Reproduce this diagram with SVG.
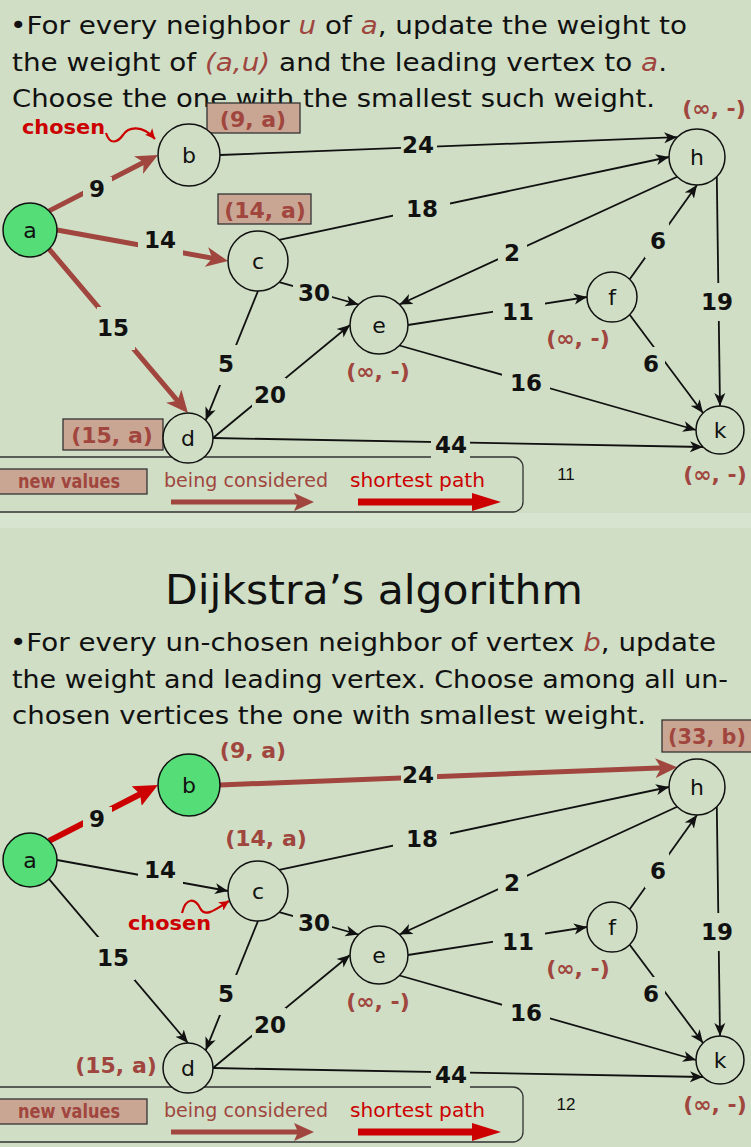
<svg xmlns="http://www.w3.org/2000/svg" width="751" height="1147" viewBox="0 0 751 1147">
<style>
.t{font-family:"DejaVu Sans","Liberation Sans",sans-serif;font-size:25px;fill:#111}
.hl{fill:#a0463e;font-style:italic}
.n circle{fill:#cfdec5;stroke:#111;stroke-width:1.5}
.n.g circle{fill:#55dd77}
.n text{font-family:"DejaVu Sans",sans-serif;font-size:22px;fill:#111;text-anchor:middle;dominant-baseline:central}
.e{stroke:#111;stroke-width:1.8;fill:none;marker-end:url(#ab)}
.eb{stroke:#a0463e;stroke-width:5;fill:none;marker-end:url(#abr)}
.er{stroke:#cc0000;stroke-width:6;fill:none;marker-end:url(#ar)}
.lr{fill:#cfdec5}
.w{font-family:"DejaVu Sans",sans-serif;font-weight:bold;font-size:23px;fill:#111;text-anchor:middle;dominant-baseline:central}
.v{font-family:"DejaVu Sans",sans-serif;font-weight:bold;font-size:22px;fill:#a0463e;text-anchor:middle;dominant-baseline:central}
.vb{fill:#c9a593;stroke:#333;stroke-width:1.3}
.lg{font-family:"DejaVu Sans",sans-serif;font-size:19px}
.pn{font-family:"Liberation Sans",sans-serif;font-size:17px;fill:#111;text-anchor:middle}
.ch{font-family:"DejaVu Sans",sans-serif;font-weight:bold;font-size:20px;fill:#cc0000}
</style>
<defs>
<marker id="ab" markerUnits="userSpaceOnUse" markerWidth="14" markerHeight="12" refX="13" refY="6" orient="auto"><path d="M0,0.5 L13,6 L0,11.5 L3.5,6 z" fill="#111"/></marker>
<marker id="abr" markerUnits="userSpaceOnUse" markerWidth="22" markerHeight="20" refX="10" refY="10" orient="auto"><path d="M0,0 L22,10 L0,20 L6,10 z" fill="#a0463e"/></marker>
<marker id="ar" markerUnits="userSpaceOnUse" markerWidth="24" markerHeight="22" refX="12" refY="11" orient="auto"><path d="M0,0 L24,11 L0,22 L4,11 z" fill="#cc0000"/></marker>
<marker id="ars" markerUnits="userSpaceOnUse" markerWidth="11" markerHeight="10" refX="10" refY="5" orient="auto"><path d="M0,0 L10,5 L0,10 L2.5,5 z" fill="#cc0000"/></marker>
</defs>
<rect width="751" height="1147" fill="#cfdec5"/>
<rect y="513" width="751" height="15" fill="#d7e4cf"/>

<!-- TOP SLIDE -->
<g id="top-text">
<text class="t" x="10" y="34" textLength="677" lengthAdjust="spacingAndGlyphs">•For every neighbor <tspan class="hl">u</tspan> of <tspan class="hl">a</tspan>, update the weight to</text>
<text class="t" x="12" y="71" textLength="655" lengthAdjust="spacingAndGlyphs">the weight of <tspan class="hl">(a,u)</tspan> and the leading vertex to <tspan class="hl">a</tspan>.</text>
<text class="t" x="12" y="107" textLength="643" lengthAdjust="spacingAndGlyphs">Choose the one with the smallest such weight.</text>
</g>

<g id="top-legend">
<rect x="-20" y="457" width="543" height="55" rx="10" fill="none" stroke="#333" stroke-width="1.3"/>
<rect class="vb" x="-2" y="469" width="149" height="25"/>
<text x="69" y="488" text-anchor="middle" class="lg" font-weight="bold" font-size="18" fill="#a0463e" textLength="102" lengthAdjust="spacingAndGlyphs">new values</text>
<text x="164" y="487" class="lg" fill="#a0463e" textLength="164" lengthAdjust="spacingAndGlyphs">being considered</text>
<line x1="171" y1="502" x2="298" y2="502" stroke="#a0463e" stroke-width="5"/>
<polygon points="294,493 314,502 294,511 298,502" fill="#a0463e"/>
<text x="350" y="487" class="lg" fill="#cc0000" textLength="135" lengthAdjust="spacingAndGlyphs">shortest path</text>
<line x1="358" y1="502" x2="476" y2="502" stroke="#cc0000" stroke-width="7"/>
<polygon points="472,493 501,502 472,511" fill="#cc0000"/>
<text class="pn" x="566" y="480">11</text>
</g>

<g id="top-edges">
<path class="eb" d="M49.1,210.9 L147.3,160.5"/>
<path class="eb" d="M57,230 L216.2,258.9"/>
<path class="eb" d="M49.1,249.1 L180.2,403.8"/>
<path class="e" d="M220,155 L677.2,137.2"/>
<path class="e" d="M279.2,239.8 L669,157"/>
<path class="e" d="M677.2,176.8 L399.5,304.5"/>
<path class="e" d="M279.2,282.2 L358.5,304.5"/>
<path class="e" d="M258,291 L205.7,420.3"/>
<path class="e" d="M213,438 L350,325"/>
<path class="e" d="M408,325 L587,297"/>
<path class="e" d="M629.7,279.3 L697,185"/>
<path class="e" d="M716.8,176.8 L720,406"/>
<path class="e" d="M629.7,314.7 L703,413"/>
<path class="e" d="M399.5,345.5 L696,430"/>
<path class="e" d="M213,438 L703,447"/>
<path d="M106,133 C110,146 118,142 123,135 C128,127 142,124 155,139" fill="none" stroke="#cc0000" stroke-width="2.2" marker-end="url(#ars)"/>
</g>

<g id="top-weights">
<rect class="lr" x="83" y="177" width="29" height="24"/><text class="w" x="97" y="189">9</text>
<rect class="lr" x="138" y="228" width="45" height="28"/><text class="w" x="160" y="240">14</text>
<rect class="lr" x="97" y="307" width="38" height="43"/><text class="w" x="113" y="328">15</text>
<rect class="lr" x="401" y="133" width="36" height="24"/><text class="w" x="418" y="145">24</text>
<rect class="lr" x="393" y="195" width="57" height="28"/><text class="w" x="422" y="209">18</text>
<rect class="lr" x="498" y="238" width="29" height="30"/><text class="w" x="512" y="253">2</text>
<rect class="lr" x="293" y="280" width="39" height="24"/><text class="w" x="314" y="293">30</text>
<rect class="lr" x="214" y="345" width="24" height="40"/><text class="w" x="226" y="364">5</text>
<rect class="lr" x="252" y="378" width="34" height="29"/><text class="w" x="270" y="395">20</text>
<rect class="lr" x="493" y="298" width="52" height="28"/><text class="w" x="518" y="312">11</text>
<rect class="lr" x="645" y="223" width="24" height="35"/><text class="w" x="658" y="241">6</text>
<rect class="lr" x="703" y="283" width="30" height="38"/><text class="w" x="717" y="302">19</text>
<rect class="lr" x="638" y="347" width="27" height="29"/><text class="w" x="651" y="364">6</text>
<rect class="lr" x="502" y="368" width="48" height="28"/><text class="w" x="526" y="383">16</text>
<rect class="lr" x="431" y="433" width="39" height="26"/><text class="w" x="451" y="445">44</text>
</g>

<g id="top-values">
<rect class="vb" x="207" y="103" width="93" height="30"/><text class="v" x="253" y="119">(9, a)</text>
<rect class="vb" x="218" y="194" width="93" height="30"/><text class="v" x="265" y="210">(14, a)</text>
<rect class="vb" x="63" y="419" width="100" height="31"/><text class="v" x="112" y="435">(15, a)</text>
<text class="v" x="714" y="108">(∞, -)</text>
<text class="v" x="578" y="338">(∞, -)</text>
<text class="v" x="378" y="371">(∞, -)</text>
<text class="v" x="715" y="474">(∞, -)</text>
<text class="ch" x="22" y="134" textLength="83" lengthAdjust="spacingAndGlyphs">chosen</text>
</g>

<g id="top-a" class="n g"><circle cx="30" cy="230" r="27"/><text x="30" y="230">a</text></g>
<g id="top-b" class="n"><circle cx="189" cy="155" r="31"/><text x="189" y="155">b</text></g>
<g id="top-c" class="n"><circle cx="258" cy="261" r="30"/><text x="258" y="261">c</text></g>
<g id="top-d" class="n"><circle cx="188" cy="438" r="25"/><text x="188" y="438">d</text></g>
<g id="top-e" class="n"><circle cx="379" cy="325" r="29"/><text x="379" y="325">e</text></g>
<g id="top-f" class="n"><circle cx="612" cy="297" r="25"/><text x="612" y="297">f</text></g>
<g id="top-h" class="n"><circle cx="697" cy="157" r="28"/><text x="697" y="157">h</text></g>
<g id="top-k" class="n"><circle cx="720" cy="430" r="24"/><text x="720" y="430">k</text></g>

<!-- BOTTOM SLIDE -->
<g id="bottom-text">
<text x="165" y="604" font-family="DejaVu Sans, sans-serif" font-size="40" fill="#111" textLength="418" lengthAdjust="spacingAndGlyphs">Dijkstra’s algorithm</text>
<text class="t" x="10" y="651" textLength="706" lengthAdjust="spacingAndGlyphs">•For every un-chosen neighbor of vertex <tspan class="hl">b</tspan>, update</text>
<text class="t" x="12" y="688" textLength="716" lengthAdjust="spacingAndGlyphs">the weight and leading vertex. Choose among all un-</text>
<text class="t" x="12" y="724" textLength="634" lengthAdjust="spacingAndGlyphs">chosen vertices the one with smallest weight.</text>
</g>

<g transform="translate(0,630)">
<g id="bottom-legend">
<rect x="-20" y="457" width="543" height="55" rx="10" fill="none" stroke="#333" stroke-width="1.3"/>
<rect class="vb" x="-2" y="469" width="149" height="25"/>
<text x="69" y="488" text-anchor="middle" class="lg" font-weight="bold" font-size="18" fill="#a0463e" textLength="102" lengthAdjust="spacingAndGlyphs">new values</text>
<text x="164" y="487" class="lg" fill="#a0463e" textLength="164" lengthAdjust="spacingAndGlyphs">being considered</text>
<line x1="171" y1="502" x2="298" y2="502" stroke="#a0463e" stroke-width="5"/>
<polygon points="294,493 314,502 294,511 298,502" fill="#a0463e"/>
<text x="350" y="487" class="lg" fill="#cc0000" textLength="135" lengthAdjust="spacingAndGlyphs">shortest path</text>
<line x1="358" y1="502" x2="476" y2="502" stroke="#cc0000" stroke-width="7"/>
<polygon points="472,493 501,502 472,511" fill="#cc0000"/>
<text class="pn" x="566" y="480">12</text>
</g>

<g id="bottom-edges">
<path class="er" d="M49.1,210.9 L147.3,160.5"/>
<path class="eb" d="M220,155 L665.2,137.7"/>
<path class="e" d="M57,230 L228,261"/>
<path class="e" d="M49.1,249.1 L188,413"/>
<path class="e" d="M279.2,239.8 L669,157"/>
<path class="e" d="M677.2,176.8 L399.5,304.5"/>
<path class="e" d="M279.2,282.2 L358.5,304.5"/>
<path class="e" d="M258,291 L205.7,420.3"/>
<path class="e" d="M213,438 L350,325"/>
<path class="e" d="M408,325 L587,297"/>
<path class="e" d="M629.7,279.3 L697,185"/>
<path class="e" d="M716.8,176.8 L720,406"/>
<path class="e" d="M629.7,314.7 L703,413"/>
<path class="e" d="M399.5,345.5 L696,430"/>
<path class="e" d="M213,438 L703,447"/>
<path d="M182,283 C186,267 195,268 200,278 C205,288 215,280 229,271" fill="none" stroke="#cc0000" stroke-width="2.2" marker-end="url(#ars)"/>
</g>

<g id="bottom-weights">
<rect class="lr" x="83" y="177" width="29" height="24"/><text class="w" x="97" y="189">9</text>
<rect class="lr" x="138" y="228" width="45" height="28"/><text class="w" x="160" y="240">14</text>
<rect class="lr" x="97" y="307" width="38" height="43"/><text class="w" x="113" y="328">15</text>
<rect class="lr" x="401" y="133" width="36" height="24"/><text class="w" x="418" y="145">24</text>
<rect class="lr" x="393" y="195" width="57" height="28"/><text class="w" x="422" y="209">18</text>
<rect class="lr" x="498" y="238" width="29" height="30"/><text class="w" x="512" y="253">2</text>
<rect class="lr" x="293" y="280" width="39" height="24"/><text class="w" x="314" y="293">30</text>
<rect class="lr" x="214" y="345" width="24" height="40"/><text class="w" x="226" y="364">5</text>
<rect class="lr" x="252" y="378" width="34" height="29"/><text class="w" x="270" y="395">20</text>
<rect class="lr" x="493" y="298" width="52" height="28"/><text class="w" x="518" y="312">11</text>
<rect class="lr" x="645" y="223" width="24" height="35"/><text class="w" x="658" y="241">6</text>
<rect class="lr" x="703" y="283" width="30" height="38"/><text class="w" x="717" y="302">19</text>
<rect class="lr" x="638" y="347" width="27" height="29"/><text class="w" x="651" y="364">6</text>
<rect class="lr" x="502" y="368" width="48" height="28"/><text class="w" x="526" y="383">16</text>
<rect class="lr" x="431" y="433" width="39" height="26"/><text class="w" x="451" y="445">44</text>
</g>

<g id="bottom-values">
<text class="v" x="253" y="120">(9, a)</text>
<text class="v" x="266" y="208">(14, a)</text>
<text class="v" x="116" y="435">(15, a)</text>
<rect class="vb" x="662" y="90" width="100" height="32"/><text class="v" x="707" y="106" textLength="78" lengthAdjust="spacingAndGlyphs">(33, b)</text>
<text class="v" x="578" y="338">(∞, -)</text>
<text class="v" x="378" y="371">(∞, -)</text>
<text class="v" x="715" y="474">(∞, -)</text>
<text class="ch" x="128" y="300" textLength="83" lengthAdjust="spacingAndGlyphs">chosen</text>
</g>

<g id="bottom-a" class="n g"><circle cx="30" cy="230" r="27"/><text x="30" y="230">a</text></g>
<g id="bottom-b" class="n g"><circle cx="189" cy="155" r="31"/><text x="189" y="155">b</text></g>
<g id="bottom-c" class="n"><circle cx="258" cy="261" r="30"/><text x="258" y="261">c</text></g>
<g id="bottom-d" class="n"><circle cx="188" cy="438" r="25"/><text x="188" y="438">d</text></g>
<g id="bottom-e" class="n"><circle cx="379" cy="325" r="29"/><text x="379" y="325">e</text></g>
<g id="bottom-f" class="n"><circle cx="612" cy="297" r="25"/><text x="612" y="297">f</text></g>
<g id="bottom-h" class="n"><circle cx="697" cy="157" r="28"/><text x="697" y="157">h</text></g>
<g id="bottom-k" class="n"><circle cx="720" cy="430" r="24"/><text x="720" y="430">k</text></g>
</g>
</svg>
